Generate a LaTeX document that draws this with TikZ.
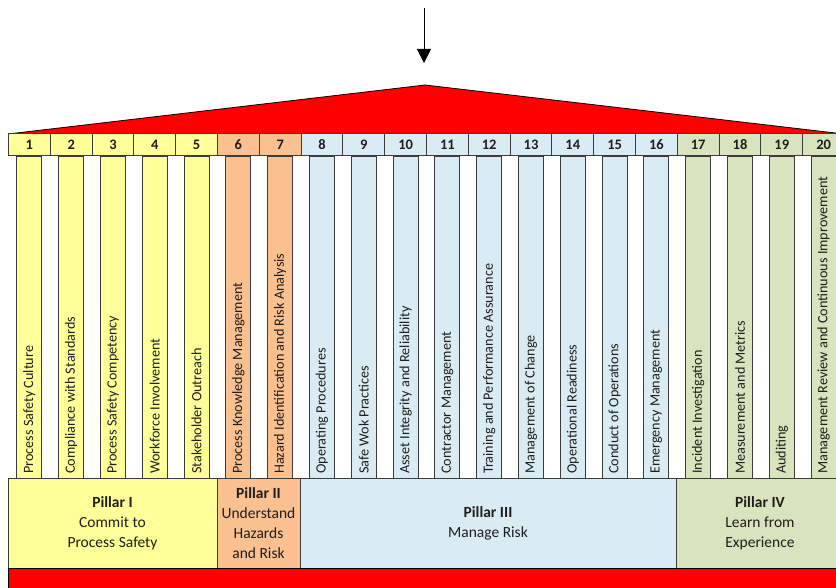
\documentclass[tikz,border=0pt]{standalone}
\usepackage{fontspec}
\setmainfont{Carlito}
\usetikzlibrary{arrows.meta}

\definecolor{pyellow}{RGB}{255,255,153}
\definecolor{porange}{RGB}{250,192,144}
\definecolor{pblue}{RGB}{218,236,243}
\definecolor{pgreen}{RGB}{215,228,189}
\definecolor{edge}{RGB}{60,60,60}
\definecolor{ink}{RGB}{30,30,30}

\tikzset{
  numbox/.style={draw=edge, line width=1pt, minimum width=41.8pt, minimum height=22pt,
    inner sep=0pt, text=ink, font=\bfseries\fontsize{14.5}{16}\selectfont},
  barbox/.style={draw=edge, line width=1pt, minimum width=25pt, minimum height=321pt, inner sep=0pt},
  barlabel/.style={rotate=90, anchor=west, inner sep=0pt, text=ink, font=\fontsize{14.2}{16}\selectfont},
  pillarbox/.style={draw=edge, line width=1pt, minimum height=90pt, inner sep=0pt},
  pillartext/.style={align=center, text=ink, font=\fontsize{15.5}{20}\selectfont},
}

\begin{document}
\begin{tikzpicture}[x=1pt, y=-1pt]
\useasboundingbox (0,0) rectangle (836,588);
\clip (0,0) rectangle (836,588);

% roof
\coordinate (roofL) at (8,134);
\coordinate (roofT) at (425,85);
\coordinate (roofR) at (844,134);
\draw[fill=red, line width=0.8pt] (roofL) -- (roofT) -- (roofR) -- cycle;

% arrow pointing down at the roof
\coordinate (arrA) at (424,8);
\coordinate (arrB) at (424,63);
\draw[line width=1pt, -{Triangle[width=14pt, length=14pt]}] (arrA) -- (arrB);

% numbered headers, columns and their labels
\foreach \i/\lab/\col in {
  1/Process Safety Culture/pyellow,
  2/Compliance with Standards/pyellow,
  3/Process Safety Competency/pyellow,
  4/Workforce Involvement/pyellow,
  5/Stakeholder Outreach/pyellow,
  6/Process Knowledge Management/porange,
  7/Hazard Identification and Risk Analysis/porange,
  8/Operating Procedures/pblue,
  9/Safe Wok Practices/pblue,
  10/Asset Integrity and Reliability/pblue,
  11/Contractor Management/pblue,
  12/Training and Performance Assurance/pblue,
  13/Management of Change/pblue,
  14/Operational Readiness/pblue,
  15/Conduct of Operations/pblue,
  16/Emergency Management/pblue,
  17/Incident Investigation/pgreen,
  18/Measurement and Metrics/pgreen,
  19/Auditing/pgreen,
  20/Management Review and Continuous Improvement/pgreen}{
  \pgfmathsetmacro{\xc}{29.4+41.8*(\i-1)}
  \node[numbox, fill=\col] (h\i) at (\xc,145) {\i};
  \node[barbox, fill=\col] (b\i) at (\xc,317.5) {};
  \node[barlabel] (l\i) at (\xc,474) {\lab};
}

% pillar boxes
\node[pillarbox, fill=pyellow, minimum width=209pt] (p1) at (112.5,523) {};
\node[pillarbox, fill=porange, minimum width=83pt] (p2) at (258.5,523) {};
\node[pillarbox, fill=pblue, minimum width=376pt] (p3) at (488,523) {};
\node[pillarbox, fill=pgreen, minimum width=168pt] (p4) at (760,523) {};
\node[pillartext] (t1) at (p1.center) {\textbf{Pillar I}\\Commit to\\Process Safety};
\node[pillartext] (t2) at (p2.center) {\textbf{Pillar II}\\Understand\\Hazards\\and Risk};
\node[pillartext] (t3) at (p3.center) {\textbf{Pillar III}\\Manage Risk};
\node[pillartext] (t4) at (p4.center) {\textbf{Pillar IV}\\Learn from\\Experience};

% foundation
\draw[fill=red, line width=1pt] (8,568) rectangle (844,600);
\end{tikzpicture}
\end{document}
